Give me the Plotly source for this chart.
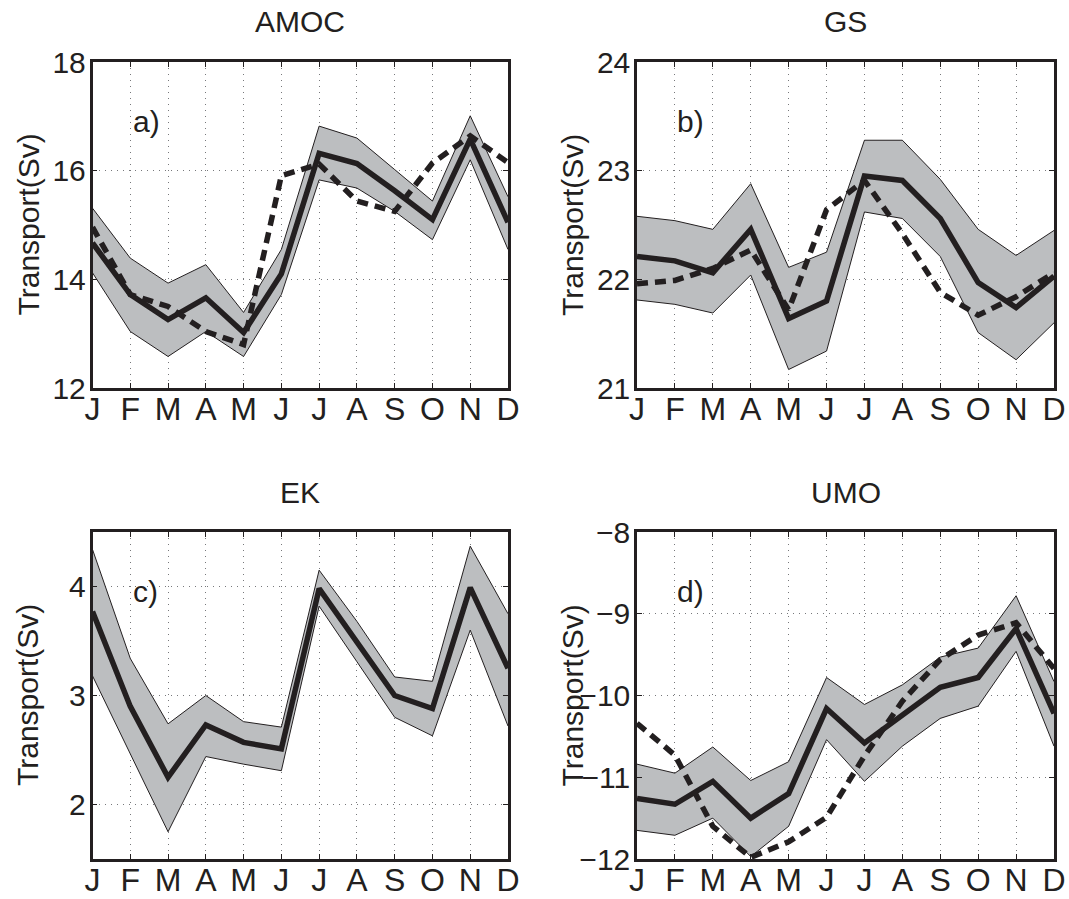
import plotly.graph_objects as go

months = ["J", "F", "M", "A", "M", "J", "J", "A", "S", "O", "N", "D"]
xi = list(range(1, 13))

# AMOC
amoc_mean = [14.67, 13.72, 13.26, 13.66, 13.02, 14.10, 16.32, 16.13, 15.63, 15.10, 16.58, 15.05]
amoc_up = [15.31, 14.39, 13.93, 14.27, 13.39, 14.55, 16.82, 16.60, 16.02, 15.44, 17.01, 15.52]
amoc_lo = [14.12, 13.04, 12.58, 13.04, 12.58, 13.72, 15.83, 15.68, 15.25, 14.73, 16.20, 14.55]
amoc_obs = [14.96, 13.72, 13.50, 13.04, 12.80, 15.91, 16.12, 15.44, 15.25, 16.14, 16.64, 16.15]

# GS
gs_mean = [22.21, 22.17, 22.06, 22.46, 21.64, 21.80, 22.95, 22.91, 22.56, 21.97, 21.74, 22.03]
gs_up = [22.58, 22.54, 22.46, 22.88, 22.11, 22.25, 23.28, 23.28, 22.92, 22.46, 22.22, 22.45]
gs_lo = [21.81, 21.77, 21.69, 22.04, 21.17, 21.34, 22.62, 22.56, 22.21, 21.51, 21.26, 21.60]
gs_obs = [21.96, 21.99, 22.10, 22.27, 21.72, 22.64, 22.91, 22.42, 21.88, 21.67, 21.84, 22.06]

# EK
ek_mean = [3.77, 2.90, 2.25, 2.73, 2.57, 2.51, 3.98, 3.48, 3.00, 2.88, 3.99, 3.25]
ek_up = [4.34, 3.34, 2.74, 3.00, 2.76, 2.71, 4.15, 3.68, 3.17, 3.13, 4.37, 3.75]
ek_lo = [3.18, 2.46, 1.75, 2.44, 2.37, 2.31, 3.82, 3.31, 2.80, 2.63, 3.60, 2.72]

# UMO
umo_mean = [-11.26, -11.33, -11.05, -11.50, -11.20, -10.16, -10.58, -10.24, -9.90, -9.78, -9.18, -10.22]
umo_up = [-10.84, -10.95, -10.63, -11.04, -10.81, -9.78, -10.11, -9.87, -9.53, -9.42, -8.78, -9.83]
umo_lo = [-11.65, -11.71, -11.50, -11.97, -11.60, -10.54, -11.05, -10.62, -10.28, -10.13, -9.46, -10.62]
umo_obs = [-10.34, -10.73, -11.60, -11.98, -11.79, -11.49, -10.74, -10.07, -9.56, -9.26, -9.11, -9.67]

panels = [
    dict(title="AMOC", label="a)", mean=amoc_mean, up=amoc_up, lo=amoc_lo, obs=amoc_obs,
         yr=[12, 18], ticks=[12, 14, 16, 18]),
    dict(title="GS", label="b)", mean=gs_mean, up=gs_up, lo=gs_lo, obs=gs_obs,
         yr=[21, 24], ticks=[21, 22, 23, 24]),
    dict(title="EK", label="c)", mean=ek_mean, up=ek_up, lo=ek_lo, obs=None,
         yr=[1.5, 4.5], ticks=[2, 3, 4]),
    dict(title="UMO", label="d)", mean=umo_mean, up=umo_up, lo=umo_lo, obs=umo_obs,
         yr=[-12, -8], ticks=[-12, -11, -10, -9, -8]),
]

W, H = 1069, 899
xdoms = [[92.5 / W, 508 / W], [637 / W, 1054 / W]]
ydoms = [[1 - 388 / H, 1 - 62 / H], [1 - 859 / H, 1 - 532 / H]]

FONT = "Liberation Sans, Arial, Helvetica, sans-serif"
INK = "#231f20"

fig = go.Figure()
layout = dict(
    width=W, height=H, margin=dict(l=0, r=0, t=0, b=0, autoexpand=False),
    paper_bgcolor="white", plot_bgcolor="white", showlegend=False,
    font=dict(family=FONT, size=30, color=INK),
)
annotations = []

for i, p in enumerate(panels):
    r, c = divmod(i, 2)
    n = i + 1
    xa = "x" if n == 1 else f"x{n}"
    ya = "y" if n == 1 else f"y{n}"
    xkey = "xaxis" if n == 1 else f"xaxis{n}"
    ykey = "yaxis" if n == 1 else f"yaxis{n}"

    fig.add_trace(go.Scatter(x=xi, y=p["up"], mode="lines", xaxis=xa, yaxis=ya,
                             line=dict(color=INK, width=1), hoverinfo="skip"))
    fig.add_trace(go.Scatter(x=xi, y=p["lo"], mode="lines", xaxis=xa, yaxis=ya,
                             line=dict(color=INK, width=1), fill="tonexty",
                             fillcolor="#bcbec0", hoverinfo="skip"))
    fig.add_trace(go.Scatter(x=xi, y=p["mean"], mode="lines", xaxis=xa, yaxis=ya,
                             line=dict(color=INK, width=5.5)))
    if p["obs"] is not None:
        fig.add_trace(go.Scatter(x=xi, y=p["obs"], mode="lines", xaxis=xa, yaxis=ya,
                                 line=dict(color=INK, width=5.5, dash="11px,7px")))

    axcommon = dict(showline=True, mirror="ticks", linecolor=INK, linewidth=2.5,
                    showgrid=True, gridcolor="#77787b", griddash="1px,5px", gridwidth=1,
                    ticks="inside", ticklen=5, tickcolor=INK, tickwidth=1,
                    zeroline=False, automargin=False)
    layout[xkey] = dict(axcommon, domain=xdoms[c], anchor=ya, range=[1, 12],
                        tickmode="array", tickvals=xi, ticktext=months,
                        ticklabelstandoff=-9,
                        tickfont=dict(family=FONT, size=32, color=INK))
    layout[ykey] = dict(axcommon, domain=ydoms[r], anchor=xa, range=p["yr"],
                        tickmode="array", tickvals=p["ticks"],
                        ticktext=[str(t).replace("-", "\u2212") for t in p["ticks"]],
                        ticklabelstandoff=-2,
                        tickfont=dict(family=FONT, size=30, color=INK))

    xmid = (xdoms[c][0] + xdoms[c][1]) / 2
    ytop_px = 62 if r == 0 else 532
    annotations.append(dict(text=p["title"], x=xmid, y=1 - (ytop_px - 40) / H,
                            xref="paper", yref="paper", showarrow=False,
                            xanchor="center", yanchor="middle",
                            font=dict(family=FONT, size=30, color=INK)))
    annotations.append(dict(text=p["label"], x=0.092, y=0.818,
                            xref=f"{xa} domain", yref=f"{ya} domain", showarrow=False,
                            xanchor="left", yanchor="middle",
                            font=dict(family=FONT, size=30, color=INK)))
    ymid = (ydoms[r][0] + ydoms[r][1]) / 2
    annotations.append(dict(text="Transport(Sv)", x=(xdoms[c][0] * W - 65) / W, y=ymid,
                            xref="paper", yref="paper", showarrow=False, textangle=-90,
                            xanchor="center", yanchor="middle",
                            font=dict(family=FONT, size=30, color=INK)))

layout["annotations"] = annotations
fig.update_layout(**layout)
fig.write_html("out.html")
